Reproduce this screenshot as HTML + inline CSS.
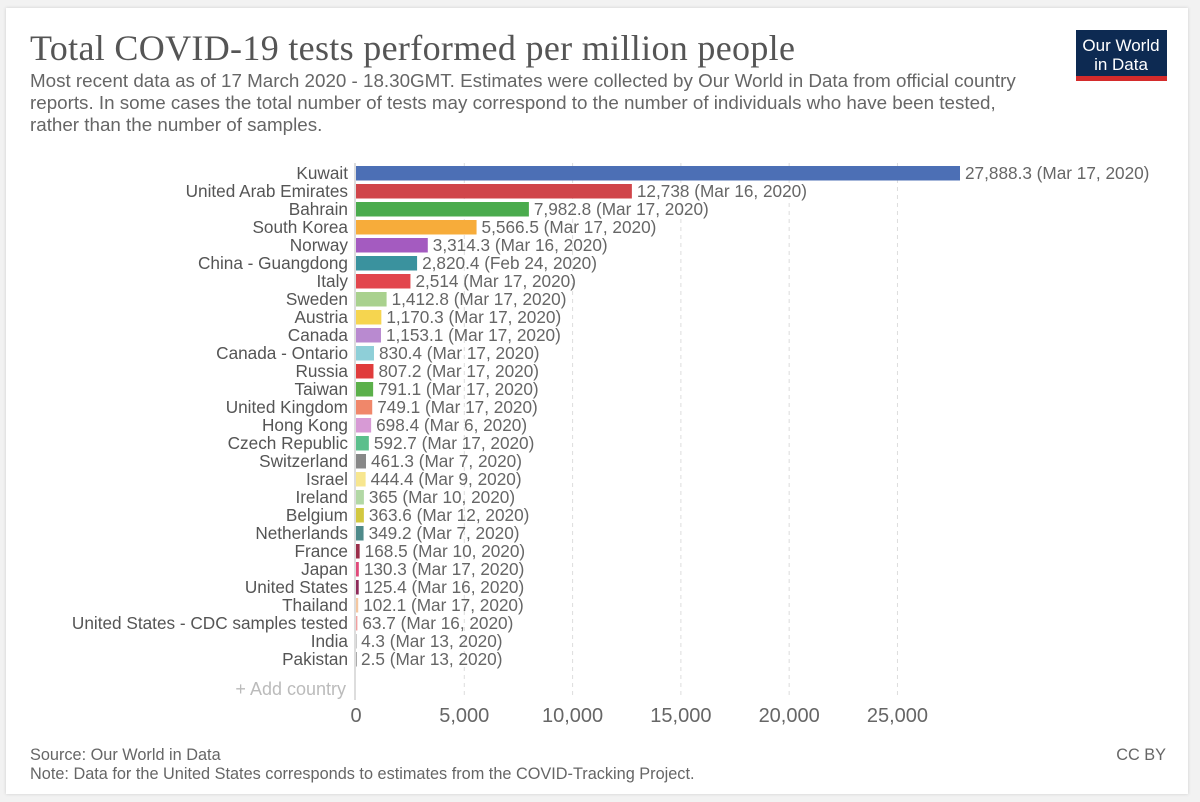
<!DOCTYPE html>
<html><head><meta charset="utf-8"><style>
body{margin:0;background:#f2f2f2;width:1200px;height:802px;overflow:hidden;font-family:"Liberation Sans",sans-serif}
#card{position:absolute;left:6px;top:8px;width:1182px;height:786px;background:#fff;box-shadow:0 0 3px #ccc}
</style></head><body>
<div id="card"></div>
<svg id="svg" width="1200" height="802" style="position:absolute;left:0;top:0">
<text x="30" y="60" font-family="Liberation Serif,serif" font-size="36" textLength="765" fill="#555">Total COVID-19 tests performed per million people</text>
<g font-size="18.8" fill="#666">
<text x="30" y="87">Most recent data as of 17 March 2020 - 18.30GMT. Estimates were collected by Our World in Data from official country</text>
<text x="30" y="109">reports. In some cases the total number of tests may correspond to the number of individuals who have been tested,</text>
<text x="30" y="131">rather than the number of samples.</text>
</g>
<g>
<rect x="1076" y="30" width="91" height="51" fill="#0d2a52"/>
<rect x="1076" y="76" width="91" height="5" fill="#d42b2b"/>
<text x="1121" y="51" font-size="17" fill="#fff" text-anchor="middle">Our World</text>
<text x="1121" y="70" font-size="17" fill="#fff" text-anchor="middle">in Data</text>
</g>
<g id="grid"></g><g id="bars"></g><g id="axis"></g>
<text x="346" y="695" font-size="18" fill="#bbb" text-anchor="end">+ Add country</text>
<text x="30" y="760" font-size="16.3" fill="#666">Source: Our World in Data</text>
<text x="30" y="779" font-size="16.3" fill="#666">Note: Data for the United States corresponds to estimates from the COVID-Tracking Project.</text>
<text x="1166" y="760" font-size="16.3" fill="#666" text-anchor="end">CC BY</text>
</svg>
<script>
const countries=["Kuwait","United Arab Emirates","Bahrain","South Korea","Norway","China - Guangdong","Italy","Sweden","Austria","Canada","Canada - Ontario","Russia","Taiwan","United Kingdom","Hong Kong","Czech Republic","Switzerland","Israel","Ireland","Belgium","Netherlands","France","Japan","United States","Thailand","United States - CDC samples tested","India","Pakistan"];
const values=[27888.3,12738,7982.8,5566.5,3314.3,2820.4,2514,1412.8,1170.3,1153.1,830.4,807.2,791.1,749.1,698.4,592.7,461.3,444.4,365,363.6,349.2,168.5,130.3,125.4,102.1,63.7,4.3,2.5];
const dates=["Mar 17, 2020","Mar 16, 2020","Mar 17, 2020","Mar 17, 2020","Mar 16, 2020","Feb 24, 2020","Mar 17, 2020","Mar 17, 2020","Mar 17, 2020","Mar 17, 2020","Mar 17, 2020","Mar 17, 2020","Mar 17, 2020","Mar 17, 2020","Mar 6, 2020","Mar 17, 2020","Mar 7, 2020","Mar 9, 2020","Mar 10, 2020","Mar 12, 2020","Mar 7, 2020","Mar 10, 2020","Mar 17, 2020","Mar 16, 2020","Mar 17, 2020","Mar 16, 2020","Mar 13, 2020","Mar 13, 2020"];
const colors=["#4c6fb5","#d0454a","#4aab4d","#f7ac3a","#a45bc0","#3a929e","#e2464d","#a9d18e","#f6d54f","#b98ad0","#8ecfd8","#e03c3c","#5bb04a","#f0876a","#d79ad5","#5bbf8c","#888888","#f7e68f","#b2d8a5","#d2c840","#4e8a8a","#9a2e4a","#e04a7a","#8e2a5a","#f4c7a0","#f0a0a0","#cccccc","#aaaaaa"];
const ticks=[0,5000,10000,15000,20000,25000];
const NS="http://www.w3.org/2000/svg";
const x=v=>356+v*(604/27888.3);
const y=i=>166+i*18;
function mk(t,a,p){const e=document.createElementNS(NS,t);for(const k in a)e.setAttribute(k,a[k]);p.appendChild(e);return e;}
const grid=document.getElementById('grid'),bars=document.getElementById('bars'),axis=document.getElementById('axis');
ticks.forEach(t=>{
 if(t>0){const l=mk('line',{x1:x(t),x2:x(t),y1:163,y2:696,stroke:'#ddd','stroke-dasharray':'4,4'},grid);
 
 }
 const tx=mk('text',{x:x(t),y:722,'font-size':20,fill:'#666','text-anchor':'middle'},axis);
 tx.textContent=t.toLocaleString('en-US');
 
 
});
const al=mk('line',{x1:355,x2:355,y1:163,y2:700,stroke:'#bbb'},axis);


countries.forEach((c,i)=>{
 const r=mk('rect',{x:356,y:y(i),width:Math.max(1,x(values[i])-356),height:14.5,fill:colors[i]},bars);
 
 
 const lb=mk('text',{x:348,y:y(i)+13,'font-size':17.2,fill:'#555','text-anchor':'end'},bars);
 lb.textContent=c;
 
 
 const vl=mk('text',{x:x(values[i])+5,y:y(i)+13,'font-size':17.2,fill:'#666'},bars);
 vl.textContent=values[i].toLocaleString('en-US')+' ('+dates[i]+')';
 
 
});
</script>
</body></html>
